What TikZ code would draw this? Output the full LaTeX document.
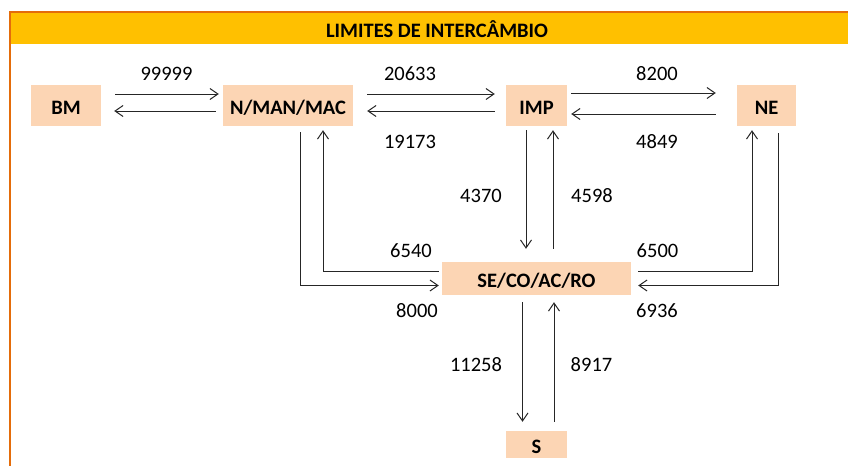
\documentclass[tikz,border=0pt]{standalone}
\usepackage{fontspec}
\setmainfont{Carlito}
\usetikzlibrary{arrows.meta,calc}

\definecolor{hdrfill}{HTML}{FFC000}
\definecolor{hdrline}{HTML}{E46C0A}
\definecolor{boxfill}{HTML}{FCD5B4}

\tikzstyle{area}=[draw=none, fill=boxfill, font=\bfseries\fontsize{20.5}{24}\selectfont, inner sep=0pt, minimum height=41pt, text height=17pt, text depth=0pt]
\tikzstyle{flow}=[->, line width=1pt, draw=black!85]
\tikzstyle{val}=[font=\fontsize{20.5}{24}\selectfont, inner sep=0pt]

\begin{document}
\begin{tikzpicture}[x=1pt,y=-1pt,>={Straight Barb[length=8pt,width=11pt]}]
\useasboundingbox (0,0) rectangle (848,466);

% header
\fill[hdrfill] (10,12) rectangle (848,43.5);
\draw[hdrline, line width=1.4pt] (848,12) -- (10,12) -- (10,466);
\node[font=\bfseries\fontsize{20.5}{24}\selectfont, inner sep=0pt] (title) at (437,29) {LIMITES DE INTERCÂMBIO};

% regions
\node[area, minimum width=70pt] (bm) at (66,105.5) {BM};
\node[area, minimum width=130pt] (nmm) at (288,105.5) {N/MAN/MAC};
\node[area, minimum width=61pt] (imp) at (536.5,105.5) {IMP};
\node[area, minimum width=59pt] (ne) at (766.5,105.5) {NE};
\node[area, minimum width=189pt, minimum height=33pt] (se) at (536.5,278.5) {SE/CO/AC/RO};
\node[area, minimum width=61pt, minimum height=27pt] (s) at (536.5,444.5) {S};

% top row
\draw[flow] ($(bm.east)+(14,-11.5)$) -- ($(nmm.west)+(-4,-11.5)$);
\draw[flow] ($(nmm.west)+(-7,5.5)$) -- ($(bm.east)+(13,5.5)$);
\draw[flow] ($(nmm.east)+(14,-11.5)$) -- ($(imp.west)+(-11,-11.5)$);
\draw[flow] ($(imp.west)+(-11,5.5)$) -- ($(nmm.east)+(14,5.5)$);
\draw[flow] ($(imp.east)+(4,-12.5)$) -- ($(ne.west)+(-21,-12.5)$);
\draw[flow] ($(ne.west)+(-21,8.5)$) -- ($(imp.east)+(4,8.5)$);

% IMP and S
\draw[flow] ($(imp.south)+(-10.5,4)$) -- ($(se.north)+(-10.5,-13)$);
\draw[flow] ($(se.north)+(16.5,-13)$) -- ($(imp.south)+(16.5,4)$);
\draw[flow] ($(se.south)+(-14,7)$) -- ($(s.north)+(-14,-9)$);
\draw[flow] ($(s.north)+(17.5,-9)$) -- ($(se.south)+(17.5,7)$);

% side loops
\draw[flow] ($(nmm.south)+(12,6)$) |- ($(se.west)+(-3,7)$);
\draw[flow] ($(se.west)+(-3,-7.5)$) -| ($(nmm.south)+(35,4)$);
\draw[flow] ($(se.east)+(7,-7)$) -| ($(ne.south)+(-14.5,4)$);
\draw[flow] ($(ne.south)+(11.5,7)$) |- ($(se.east)+(7,7)$);

% limits
\node[val] (v1) at (166.5,74) {99999};
\node[val] (v2) at (410,74) {20633};
\node[val] (v3) at (410,142) {19173};
\node[val] (v4) at (657,73.5) {8200};
\node[val] (v5) at (657,141.5) {4849};
\node[val] (v6) at (481,196) {4370};
\node[val] (v7) at (592,196) {4598};
\node[val] (v8) at (411,250.5) {6540};
\node[val] (v9) at (657.5,250.5) {6500};
\node[val] (v10) at (417,310.5) {8000};
\node[val] (v11) at (657,310.5) {6936};
\node[val] (v12) at (476,365) {11258};
\node[val] (v13) at (591.5,365) {8917};

\end{tikzpicture}
\end{document}
